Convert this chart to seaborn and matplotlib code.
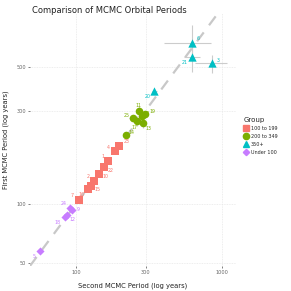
import numpy as np
import pandas as pd
import matplotlib
matplotlib.use("Agg")
import matplotlib.pyplot as plt
import seaborn as sns

# Data
ids = [1, 2, 3, 4, 5, 6, 7, 8, 9, 10, 11, 12, 13, 14, 15, 16, 17, 18, 19, 20, 21, 22, 23, 24, 25]
second_period = [166, 133, 862, 186, 56.5, 628, 105, 282, 94.5, 143, 269, 86.2, 288, 220, 126, 121, 262, 83.5, 298, 345, 625, 156, 198, 91.5, 248]
first_period = [166, 131, 526, 186, 57.6, 668, 105, 280, 93.5, 143, 298, 87.5, 260, 224, 124, 120, 266, 86, 287, 377, 564, 154, 198, 96, 274]
second_lo = [160, 128, 652, 180, 55, 404, 102, 270, 91, 138, 258, 84, 276, 212, 121, 117, 240, 81, 285, 332, 547, 150, 191, 89, 232]
second_hi = [172, 138, 1082, 192, 58, 847, 108, 294, 98, 148, 280, 89, 300, 228, 131, 125, 276, 86, 311, 358, 710, 162, 205, 94, 264]
first_lo = [160, 127, 468, 180, 56, 540, 102, 268, 91, 139, 280, 85, 245, 216, 120, 117, 250, 83, 276, 366, 470, 150, 192, 93, 262]
first_hi = [172, 135, 576, 192, 59, 820, 108, 292, 96, 147, 316, 90, 275, 232, 128, 123, 282, 89, 298, 388, 640, 158, 204, 99, 286]
groups = ["100 to 199", "100 to 199", "350+", "100 to 199", "Under 100", "350+", "100 to 199",
          "200 to 349", "Under 100", "100 to 199", "200 to 349", "Under 100", "200 to 349",
          "200 to 349", "100 to 199", "100 to 199", "200 to 349", "Under 100", "200 to 349",
          "350+", "350+", "100 to 199", "100 to 199", "Under 100", "200 to 349"]
group_order = ["100 to 199", "200 to 349", "350+", "Under 100"]

df = pd.DataFrame({
    "id": ids, "second": second_period, "first": first_period,
    "second_lo": second_lo, "second_hi": second_hi,
    "first_lo": first_lo, "first_hi": first_hi, "Group": groups,
})

palette = {"100 to 199": "#F8766D", "200 to 349": "#7CAE00", "350+": "#00BFC4", "Under 100": "#C77CFF"}
markers = {"100 to 199": "s", "200 to 349": "o", "350+": "^", "Under 100": "D"}
sizes = {"100 to 199": 32, "200 to 349": 30, "350+": 36, "Under 100": 17}

# label offsets in points (dx, dy)
label_offsets = {1: (-4, 3), 2: (-4, 3), 3: (4, 2), 4: (-5, 3), 5: (-4, -4), 6: (4, 3),
                 7: (-5, 3), 8: (4, 2), 9: (4, 0), 10: (5, -2), 11: (0, 4), 12: (4, -3),
                 13: (4, -4), 14: (4, 2), 15: (5, -3), 16: (-5, -4), 17: (-2, -5),
                 18: (-5, -4), 19: (5, 2), 20: (-5, -4), 21: (-5, -4), 22: (5, -2),
                 23: (5, 3), 24: (-5, 3), 25: (-5, 2)}

sns.set_theme(style="white")
plt.rcParams["font.family"] = ["DejaVu Sans"]

fig = plt.figure(figsize=(2.91, 2.91), dpi=100)
ax = fig.add_axes([0.103, 0.086, 0.708, 0.869])

ax.set_xscale("log")
ax.set_yscale("log")
ax.set_xlim(48.3, 1253)
ax.set_ylim(48.3, 944)

ax.grid(True, which="major", color="#e8e8e8", linestyle=(0, (1, 1)), linewidth=0.6)
ax.set_axisbelow(True)

ax.axline((1, 1), (10, 10), color="#c8c8c8", linestyle=(0, (5, 4)), linewidth=1.6, zorder=1)

ax.errorbar(df["second"], df["first"],
            xerr=[df["second"] - df["second_lo"], df["second_hi"] - df["second"]],
            yerr=[df["first"] - df["first_lo"], df["first_hi"] - df["first"]],
            fmt="none", ecolor="#cccccc", elinewidth=0.8, capsize=0, zorder=2)

for g in group_order:
    sub = df[df["Group"] == g]
    sns.scatterplot(data=sub, x="second", y="first", ax=ax, color=palette[g],
                    marker=markers[g], s=sizes[g], linewidth=0, zorder=3, legend=False)

for _, r in df.iterrows():
    dx, dy = label_offsets[r["id"]]
    ax.annotate(str(r["id"]), (r["second"], r["first"]), xytext=(dx, dy),
                textcoords="offset points", fontsize=3.4, color=palette[r["Group"]],
                ha="center", va="center", zorder=4)

ax.set_xticks([100, 300, 1000])
ax.set_xticklabels(["100", "300", "1000"])
ax.set_yticks([50, 100, 300, 500])
ax.set_yticklabels(["50", "100", "300", "500"])
ax.minorticks_off()
ax.tick_params(axis="both", labelsize=3.6, colors="#4d4d4d", length=1.5, width=0.5, pad=1.5,
               bottom=True, left=True, labelcolor="#666666")
for s in ax.spines.values():
    s.set_visible(False)

ax.set_xlabel("Second MCMC Period (log years)", fontsize=4.9, color="#222222", labelpad=5)
ax.set_ylabel("First MCMC Period (log years)", fontsize=4.9, color="#222222", labelpad=5)
fig.text(0.11, 0.965, "Comparison of MCMC Orbital Periods", fontsize=6, color="#222222",
         ha="left", va="center")

handles = [plt.Line2D([], [], marker=markers[g], color=palette[g], linestyle="none",
                      markersize=4.5 if g != "Under 100" else 3.2) for g in group_order]
leg = fig.legend(handles, group_order, title="Group", loc="upper left",
                 bbox_to_anchor=(0.83, 0.605), frameon=False, fontsize=3.5,
                 title_fontsize=5, handletextpad=0.3, labelspacing=0.6,
                 borderaxespad=0, handlelength=1.2)
leg._legend_box.align = "left"

fig.savefig("out.png", dpi=100)
